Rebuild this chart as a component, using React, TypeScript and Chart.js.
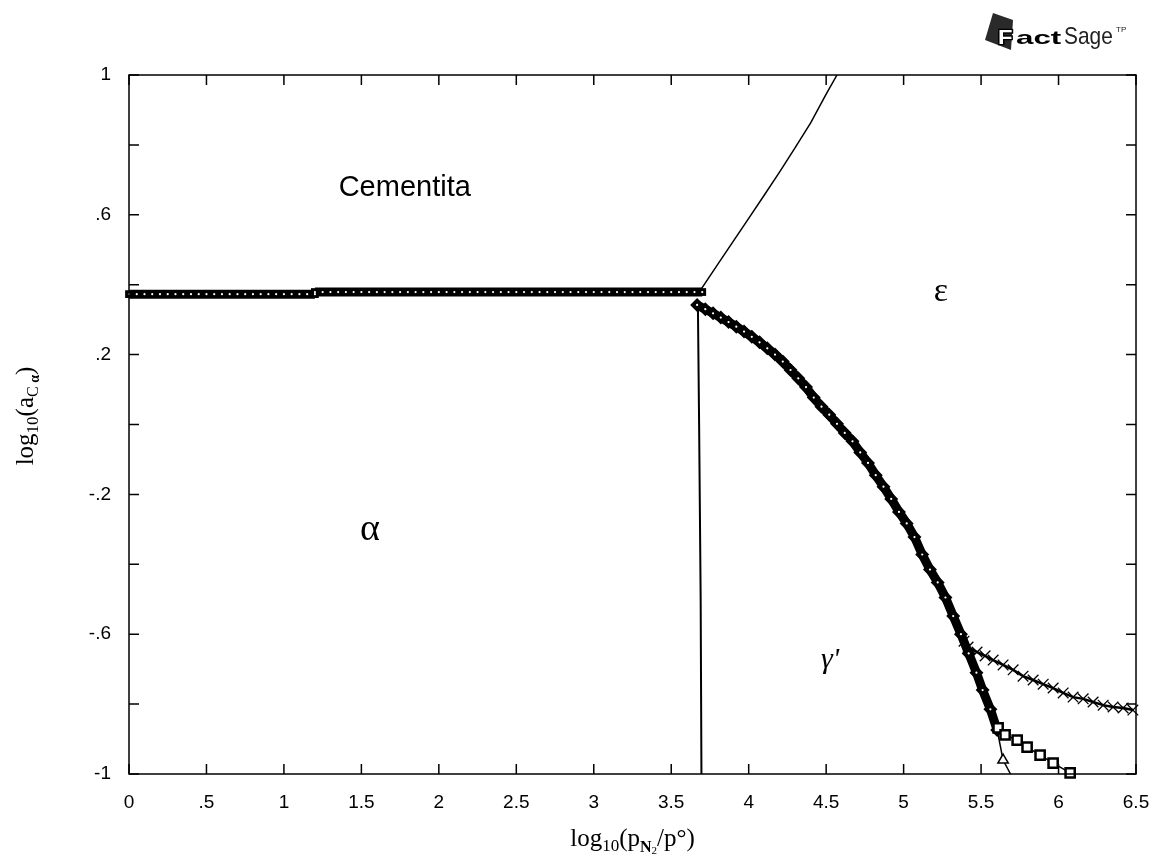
import React, { useEffect, useRef } from 'react';
import { Chart, registerables } from 'chart.js';

Chart.register(...registerables);

// ---- data ----
const flatLeftX = [0, 0.05, 0.1, 0.15, 0.2, 0.25, 0.3, 0.35, 0.4, 0.45, 0.5, 0.55, 0.6, 0.65, 0.7, 0.75, 0.8, 0.85, 0.9, 0.95, 1, 1.05, 1.1, 1.15, 1.2];
const flatLeftLevel = 0.373;
const flatRightX = [1.2, 1.25, 1.3, 1.35, 1.4, 1.45, 1.5, 1.55, 1.6, 1.65, 1.7, 1.75, 1.8, 1.85, 1.9, 1.95, 2, 2.05, 2.1, 2.15, 2.2, 2.25, 2.3, 2.35, 2.4, 2.45, 2.5, 2.55, 2.6, 2.65, 2.7, 2.75, 2.8, 2.85, 2.9, 2.95, 3, 3.05, 3.1, 3.15, 3.2, 3.25, 3.3, 3.35, 3.4, 3.45, 3.5, 3.55, 3.6, 3.65, 3.7];
const flatRightLevel = 0.379;

const upperX = [3.69, 3.8, 3.9, 4.0, 4.1, 4.2, 4.3, 4.4, 4.5, 4.57];
const upperY = [0.385, 0.458, 0.524, 0.59, 0.656, 0.723, 0.792, 0.863, 0.945, 1.0];

const verticalX = [3.672, 3.68, 3.69, 3.695];
const verticalY = [0.35, 0.0, -0.5, -1.0];

const mainX = [3.667, 3.72, 3.77, 3.82, 3.87, 3.92, 3.97, 4.02, 4.07, 4.12, 4.17, 4.22, 4.27, 4.32, 4.37, 4.42, 4.47, 4.52, 4.57, 4.62, 4.67, 4.72, 4.77, 4.82, 4.87, 4.92, 4.97, 5.02, 5.07, 5.12, 5.17, 5.22, 5.27, 5.32, 5.37, 5.42, 5.47, 5.51, 5.56, 5.604];
const mainY = [0.342, 0.33, 0.318, 0.306, 0.293, 0.28, 0.266, 0.251, 0.235, 0.218, 0.2, 0.18, 0.156, 0.132, 0.107, 0.077, 0.051, 0.028, 0.002, -0.024, -0.048, -0.08, -0.11, -0.145, -0.178, -0.213, -0.25, -0.283, -0.322, -0.372, -0.415, -0.452, -0.495, -0.548, -0.6, -0.655, -0.71, -0.76, -0.815, -0.874];

const triX = [5.604, 5.642, 5.69];
const triY = [-0.874, -0.96, -1.0];

const squareX = [5.61, 5.655, 5.733, 5.797, 5.881, 5.965, 6.075];
const squareY = [-0.868, -0.888, -0.903, -0.923, -0.946, -0.969, -0.997];

const crossX = [5.39, 5.416, 5.474, 5.526, 5.578, 5.642, 5.707, 5.771, 5.836, 5.901, 5.965, 6.03, 6.094, 6.159, 6.223, 6.288, 6.352, 6.417, 6.48];
const crossY = [-0.62, -0.637, -0.651, -0.662, -0.674, -0.688, -0.702, -0.72, -0.731, -0.743, -0.754, -0.768, -0.78, -0.785, -0.794, -0.803, -0.808, -0.811, -0.817];

const xLabelValues = [0, 0.5, 1, 1.5, 2, 2.5, 3, 3.5, 4, 4.5, 5, 5.5, 6, 6.5];
const yLabelValues = [1, 0.6, 0.2, -0.2, -0.6, -1];

const phaseLabels = ['Cementita', 'ε', 'α', "γ'"];
const phaseAnchorX = [1.78, 5.24, 1.556, 4.525];
const phaseAnchorY = [0.677, 0.379, -0.302, -0.674];

// ---- helpers ----
const pts = (xs: number[], ys: number[]) => xs.map((x, i) => ({ x, y: ys[i] }));
const flat = (xs: number[], lvl: number) => xs.map((x) => ({ x, y: lvl }));
const fmtNum = (v: number) => {
  const r = Math.round(v * 100) / 100;
  if (r === 0) return '0';
  return String(r).replace(/^0\./, '.').replace(/^-0\./, '-.');
};

type Part = { t: string; font: string; dy?: number };
function drawRich(ctx: CanvasRenderingContext2D, parts: Part[], x: number, y: number) {
  let total = 0;
  const widths = parts.map((p) => {
    ctx.font = p.font;
    const w = ctx.measureText(p.t).width;
    total += w;
    return w;
  });
  let cx = x - total / 2;
  ctx.textAlign = 'left';
  ctx.textBaseline = 'alphabetic';
  parts.forEach((p, i) => {
    ctx.font = p.font;
    ctx.fillText(p.t, cx, y + (p.dy || 0));
    cx += widths[i];
  });
}

const SERIF = '"Liberation Serif", "DejaVu Serif", serif';
const SANS = '"Liberation Sans", Arial, sans-serif';

const decorPlugin = {
  id: 'decor',
  afterDraw(chart: any) {
    const { ctx, chartArea: a, scales } = chart;
    const xs = scales.x;
    const ys = scales.y;
    ctx.save();
    ctx.strokeStyle = '#000';
    ctx.lineWidth = 1.5;
    ctx.strokeRect(a.left, a.top, a.right - a.left, a.bottom - a.top);
    ctx.beginPath();
    xs.ticks.forEach((t: any) => {
      const px = xs.getPixelForValue(t.value);
      ctx.moveTo(px, a.bottom);
      ctx.lineTo(px, a.bottom - 10);
      ctx.moveTo(px, a.top);
      ctx.lineTo(px, a.top + 10);
    });
    ys.ticks.forEach((t: any) => {
      const py = ys.getPixelForValue(t.value);
      ctx.moveTo(a.left, py);
      ctx.lineTo(a.left + 10, py);
      ctx.moveTo(a.right, py);
      ctx.lineTo(a.right - 10, py);
    });
    ctx.stroke();

    // phase labels
    ctx.fillStyle = '#000';
    ctx.textAlign = 'center';
    ctx.textBaseline = 'middle';
    const fonts = [`29px ${SANS}`, `34px ${SERIF}`, `38px ${SERIF}`, `italic 30px ${SERIF}`];
    phaseLabels.forEach((lbl, i) => {
      ctx.font = fonts[i];
      ctx.fillText(lbl, xs.getPixelForValue(phaseAnchorX[i]), ys.getPixelForValue(phaseAnchorY[i]));
    });

    // x title
    const big = `25px ${SERIF}`;
    const sub = `17px ${SERIF}`;
    const sub2 = `11px ${SERIF}`;
    drawRich(ctx, [
      { t: 'log', font: big },
      { t: '10', font: sub, dy: 5 },
      { t: '(p', font: big },
      { t: 'N', font: `bold 16px ${SERIF}`, dy: 6 },
      { t: '2', font: sub2, dy: 8 },
      { t: '/p°)', font: big },
    ], (a.left + a.right) / 2, 846);

    // y title
    ctx.save();
    ctx.translate(26, 416);
    ctx.rotate(-Math.PI / 2);
    drawRich(ctx, [
      { t: 'log', font: big },
      { t: '10', font: sub, dy: 5 },
      { t: '(a', font: big },
      { t: 'C', font: `16px ${SERIF}`, dy: 5 },
      { t: ' α', font: `bold 14px ${SERIF}`, dy: 6 },
      { t: ')', font: big },
    ], 0, 7);
    ctx.restore();

    // logo
    ctx.fillStyle = '#2a2a2a';
    ctx.beginPath();
    ctx.moveTo(993, 13);
    ctx.lineTo(1013, 20);
    ctx.lineTo(1011, 50);
    ctx.lineTo(985, 40);
    ctx.closePath();
    ctx.fill();
    ctx.textAlign = 'left';
    ctx.textBaseline = 'alphabetic';
    ctx.save();
    ctx.translate(998, 44);
    ctx.scale(1.25, 1.1);
    ctx.font = `bold 19px ${SANS}`;
    ctx.lineWidth = 2.5;
    ctx.strokeStyle = '#000';
    ctx.strokeText('F', 0, 0);
    ctx.fillStyle = '#fff';
    ctx.fillText('F', 0, 0);
    ctx.restore();
    ctx.save();
    ctx.translate(1016, 44);
    ctx.scale(1.65, 1);
    ctx.fillStyle = '#000';
    ctx.font = `900 19px ${SANS}`;
    ctx.fillText('act', 0, 0);
    ctx.restore();
    ctx.save();
    ctx.translate(1064, 44);
    ctx.scale(0.95, 1.1);
    ctx.fillStyle = '#222';
    ctx.font = `22px ${SANS}`;
    ctx.fillText('Sage', 0, 0);
    ctx.restore();
    ctx.fillStyle = '#222';
    ctx.font = `8px ${SANS}`;
    ctx.fillText('TP', 1116, 32);
    ctx.restore();
  },
};

export default function App() {
  const ref = useRef<HTMLCanvasElement>(null);
  useEffect(() => {
    document.body.style.margin = '0';
    const canvas = ref.current!;
    const black = '#000';
    const chart = new Chart(canvas, {
      type: 'scatter',
      data: {
        datasets: [
          {
            data: [...flat(flatLeftX, flatLeftLevel), ...flat(flatRightX, flatRightLevel), ...pts(mainX, mainY)],
            showLine: false, pointRadius: 1.1, pointBackgroundColor: '#fff', pointBorderWidth: 0, order: 0, clip: false,
          } as any,
          {
            data: flat(flatLeftX, flatLeftLevel), showLine: true, borderColor: black, borderWidth: 9,
            pointStyle: 'rect', pointRadius: 5.5, pointBackgroundColor: black, pointBorderColor: black, pointBorderWidth: 0,
            order: 2, clip: false,
          } as any,
          {
            data: flat(flatRightX, flatRightLevel), showLine: true, borderColor: black, borderWidth: 9,
            pointStyle: 'rect', pointRadius: 5.5, pointBackgroundColor: black, pointBorderColor: black, pointBorderWidth: 0,
            order: 2,
          } as any,
          {
            data: pts(upperX, upperY), showLine: true, borderColor: black, borderWidth: 1.5, pointRadius: 0, order: 3,
          } as any,
          {
            data: pts(verticalX, verticalY), showLine: true, borderColor: black, borderWidth: 2, pointRadius: 0, order: 3,
          } as any,
          {
            data: pts(mainX, mainY), showLine: true, borderColor: black, borderWidth: 9,
            pointStyle: 'rectRot', pointRadius: 7, pointBackgroundColor: black, pointBorderColor: black, pointBorderWidth: 0,
            order: 2,
          } as any,
          {
            data: pts(triX, triY), showLine: true, borderColor: black, borderWidth: 1.5,
            pointStyle: 'triangle', pointRadius: [0, 6, 0], pointBackgroundColor: '#fff', pointBorderColor: black, pointBorderWidth: 1.5,
            order: 3,
          } as any,
          {
            data: pts(squareX, squareY), showLine: true, borderColor: black, borderWidth: 1.5,
            pointStyle: 'rect', pointRadius: 6.5, pointBackgroundColor: '#fff', pointBorderColor: black, pointBorderWidth: 2.5,
            order: 1, clip: false,
          } as any,
          {
            data: pts(crossX, crossY), showLine: true, borderColor: black, borderWidth: 2.5,
            pointStyle: 'crossRot', pointRadius: 7.5, pointBorderColor: black, pointBorderWidth: 1.3,
            order: 3, clip: false,
          } as any,
        ],
      },
      options: {
        responsive: false,
        animation: false,
        events: [],
        layout: { padding: { left: 0, right: 17, top: 75, bottom: 0 } },
        plugins: { legend: { display: false }, tooltip: { enabled: false } },
        elements: { line: { tension: 0 } },
        scales: {
          x: {
            type: 'linear', min: 0, max: 6.5,
            afterFit: (s: any) => { s.height = 87; s.paddingLeft = 0; s.paddingRight = 0; },
            grid: { display: false, drawTicks: false },
            border: { display: false },
            afterBuildTicks: (s: any) => { s.ticks = xLabelValues.map((v) => ({ value: v })); },
            ticks: {
              padding: 17, color: '#000', maxRotation: 0, autoSkip: false,
              font: { family: SANS, size: 19 },
              callback: (v: any) => fmtNum(Number(v)),
            },
          },
          y: {
            type: 'linear', min: -1, max: 1,
            afterFit: (s: any) => { s.width = 129; s.paddingTop = 0; s.paddingBottom = 0; },
            grid: { display: false, drawTicks: false },
            border: { display: false },
            ticks: {
              stepSize: 0.2, padding: 18, color: '#000', autoSkip: false,
              font: { family: SANS, size: 19 },
              callback: (v: any) => {
                const n = Number(v);
                return yLabelValues.some((y) => Math.abs(y - n) < 1e-6) ? fmtNum(n) : '';
              },
            },
          },
        },
      },
      plugins: [decorPlugin],
    } as any);
    return () => chart.destroy();
  }, []);
  return <canvas ref={ref} width={1153} height={861} style={{ display: 'block', width: 1153, height: 861 }} />;
}
